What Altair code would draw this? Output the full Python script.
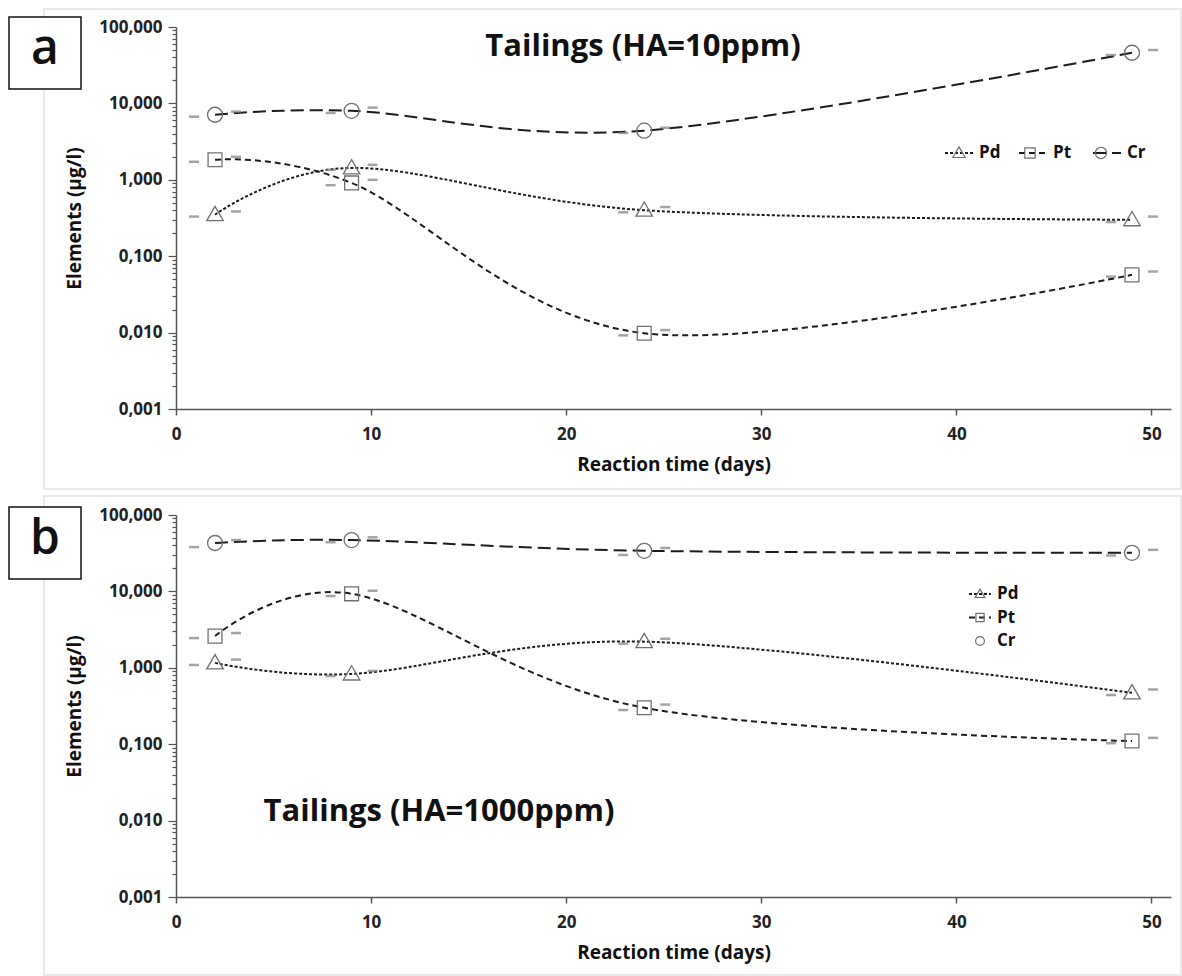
import altair as alt
import pandas as pd

# ---------------- data ----------------
days = [2, 9, 24, 49]
elements = ["Pd", "Pt", "Cr"]

# Panel a : Tailings (HA=10ppm)
a_pd = [0.35, 1.43, 0.40, 0.30]
a_pt = [1.83, 0.91, 0.0098, 0.057]
a_cr = [7.1, 8.0, 4.4, 46.0]
a_pd_lo = [0.33, 1.35, 0.375, 0.28]
a_pd_hi = [0.385, 1.57, 0.44, 0.33]
a_pt_lo = [1.72, 0.85, 0.0092, 0.054]
a_pt_hi = [2.0, 1.0, 0.0108, 0.063]
a_cr_lo = [6.7, 7.5, 4.1, 43.0]
a_cr_hi = [7.8, 8.8, 4.8, 50.0]

# Panel b : Tailings (HA=1000ppm)
b_pd = [1.16, 0.83, 2.2, 0.47]
b_pt = [2.6, 9.3, 0.30, 0.11]
b_cr = [43.0, 47.0, 34.0, 32.0]
b_pd_lo = [1.09, 0.78, 2.07, 0.44]
b_pd_hi = [1.28, 0.91, 2.4, 0.52]
b_pt_lo = [2.45, 8.7, 0.28, 0.103]
b_pt_hi = [2.85, 10.2, 0.33, 0.121]
b_cr_lo = [38.0, 44.0, 30.0, 29.5]
b_cr_hi = [47.0, 51.0, 37.0, 35.0]

x_ticks = [0, 10, 20, 30, 40, 50]

# ---------------- styles ----------------
FONT = "Open Sans"
dashes = [[3, 2], [6, 4], [13, 6]]
shape_paths = [
    "M0,-0.44L0.44,0.32L-0.44,0.32Z",
    "M-0.37,-0.37H0.37V0.37H-0.37Z",
    "M0.4,0A0.4,0.4,0,1,1,-0.4,0A0.4,0.4,0,1,1,0.4,0Z",
]


def build_df(vals, lows, highs):
    rows = []
    for el, v, lo, hi in zip(elements, vals, lows, highs):
        for d, a, b, c in zip(days, v, lo, hi):
            rows.append({"day": d, "value": a, "lo": b, "hi": c, "el": el, "el_s": el})
    return pd.DataFrame(rows)


df_a = build_df([a_pd, a_pt, a_cr], [a_pd_lo, a_pt_lo, a_cr_lo], [a_pd_hi, a_pt_hi, a_cr_hi])
df_b = build_df([b_pd, b_pt, b_cr], [b_pd_lo, b_pt_lo, b_cr_lo], [b_pd_hi, b_pt_hi, b_cr_hi])

y_ticks = sorted(set(round(m * 10 ** e, 6) for e in range(-3, 2) for m in range(1, 10)) | {100})
is_major = "abs(log(datum.value)/LN10 - round(log(datum.value)/LN10)) < 0.000001"

W, H = 995, 382

x_axis = alt.Axis(
    values=x_ticks, title="Reaction time (days)", grid=False,
    labelFont=FONT, labelFontWeight="bold", labelFontSize=17, labelColor="#222",
    titleFont=FONT, titleFontWeight="bold", titleFontSize=19, titleColor="#111",
    labelPadding=11, titlePadding=13, tickSize=6, tickColor="#555",
    domainColor="#555", domainWidth=1.5, tickWidth=1.5, labelFlush=False,
)
y_axis = alt.Axis(
    values=y_ticks, title="Elements (µg/l)", grid=False,
    labelExpr=f"{is_major} ? replace(format(datum.value, '.3f'), '.', ',') : ''",
    labelOverlap=False,
    labelFont=FONT, labelFontWeight="bold", labelFontSize=17, labelColor="#222",
    titleFont=FONT, titleFontWeight="bold", titleFontSize=19, titleColor="#111",
    labelPadding=6, titlePadding=14,
    tickSize={"condition": {"test": is_major, "value": 8}, "value": 4},
    tickColor="#555", tickWidth=1.2, domainColor="#555", domainWidth=1.5,
)

x_scale = alt.Scale(domain=[0, 51], nice=False, zero=False)
y_scale = alt.Scale(type="log", domain=[0.001, 100], nice=False)


def one(d):
    return alt.Chart(pd.DataFrame([d]))


def panel(df, title, title_xy, letter, frame_y, box_y, leg_line, leg_shape):
    X = alt.X("day:Q", scale=x_scale, axis=x_axis)
    base = alt.Chart(df)
    lines = base.mark_line(interpolate="cardinal", strokeWidth=2, color="#1c1c1c").encode(
        x=X,
        y=alt.Y("value:Q", scale=y_scale, axis=y_axis),
        strokeDash=alt.StrokeDash("el:N", scale=alt.Scale(domain=elements, range=dashes), legend=leg_line),
    )
    points = base.mark_point(filled=False, size=1406, strokeWidth=1.3, color="#707070", opacity=1).encode(
        x=X,
        y=alt.Y("value:Q", scale=y_scale, axis=y_axis),
        shape=alt.Shape("el_s:N", sort=elements, scale=alt.Scale(range=shape_paths), legend=leg_shape),
    )
    cap_lo = base.mark_tick(orient="horizontal", size=10, thickness=2.5, color="#7d7d7d", xOffset=-21).encode(
        x=X, y=alt.Y("lo:Q", scale=y_scale, axis=y_axis)
    )
    cap_hi = base.mark_tick(orient="horizontal", size=10, thickness=2.5, color="#7d7d7d", xOffset=21).encode(
        x=X, y=alt.Y("hi:Q", scale=y_scale, axis=y_axis)
    )
    frame = one({"k": 0}).mark_rect(fill=None, stroke="#e2e2e2", strokeWidth=1.5).encode(
        x=alt.value(-132), x2=alt.value(1005), y=alt.value(frame_y[0]), y2=alt.value(frame_y[1])
    )
    box = one({"k": 0}).mark_rect(fill="white", stroke="#111", strokeWidth=1.5).encode(
        x=alt.value(-167), x2=alt.value(-95), y=alt.value(box_y[0]), y2=alt.value(box_y[1])
    )
    letter_t = one({"t": letter}).mark_text(font=FONT, fontSize=48, fontWeight=600, color="#111",
                                             baseline="middle", align="center").encode(
        text="t:N", x=alt.value(-131), y=alt.value((box_y[0] + box_y[1]) / 2 - 3)
    )
    title_t = one({"t": title}).mark_text(font=FONT, fontSize=31, fontWeight="bold", color="#111",
                                           baseline="middle", align="center").encode(
        text="t:N", x=alt.value(title_xy[0]), y=alt.value(title_xy[1])
    )
    return alt.layer(frame, box, letter_t, title_t, lines, cap_lo, cap_hi, points).properties(width=W, height=H)


leg_common = dict(title=None, orient="none", labelFont=FONT, labelFontWeight="bold",
                  labelFontSize=17, labelColor="#111", labelOffset=5)

# panel a: horizontal legend (dash legend carries the labels, shape legend overlays the markers)
leg_a_line = alt.Legend(direction="horizontal", legendX=768, legendY=111, symbolType="stroke",
                        symbolSize=784, symbolStrokeWidth=2, symbolStrokeColor="#1c1c1c",
                        gridAlign="all", columnPadding=14, **leg_common)
leg_a_shape = alt.Legend(direction="horizontal", legendX=768, legendY=111,
                         symbolSize=784, symbolStrokeWidth=1.2, symbolStrokeColor="#707070",
                         symbolFillColor="transparent", labelExpr="''",
                         gridAlign="all", columnPadding=36, **leg_common)

# panel b: vertical legend, Cr shown with its marker only
leg_b_shape = alt.Legend(direction="vertical", legendX=792, legendY=67,
                         symbolSize=484, symbolStrokeWidth=1.2, symbolStrokeColor="#707070",
                         symbolFillColor="transparent", rowPadding=3.5, **leg_common)
leg_b_line = alt.Legend(direction="vertical", legendX=792, legendY=67, symbolType="stroke",
                        symbolSize=484, symbolStrokeWidth=2, symbolStrokeColor="#1c1c1c",
                        rowPadding=3.5, values=["Pd", "Pt"], labelExpr="''", **leg_common)

pa = panel(df_a, "Tailings (HA=10ppm)", (467, 20), "a", (-18, 462), (-10, 62), leg_a_line, leg_a_shape)
pb = panel(df_b, "Tailings (HA=1000ppm)", (263, 297), "b", (-19, 460), (-8, 64), leg_b_line, leg_b_shape)

chart = alt.vconcat(pa, pb, spacing=5).resolve_scale(strokeDash="independent", shape="independent").properties(
    padding={"left": 8, "top": 8, "right": 0, "bottom": 0},
    background="white",
).configure_view(stroke=None)

chart.save("out.html", embed_options={"renderer": "svg", "actions": False})
